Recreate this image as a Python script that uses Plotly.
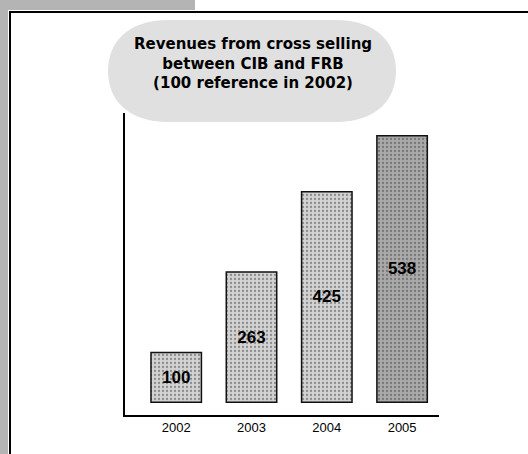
import plotly.graph_objects as go

years = ["2002", "2003", "2004", "2005"]
values = [100, 263, 425, 538]
bar_colors = ["#d2d2d2", "#d2d2d2", "#d2d2d2", "#a9a9a9"]
title_lines = ["Revenues from cross selling", "between CIB and FRB", "(100 reference in 2002)"]

W, H = 528, 454
L, R, T, B = 125, 439, 113, 415


def px(x):
    return (x - L) / (R - L)


def py(y):
    return (B - y) / (B - T)


fig = go.Figure()
fig.add_trace(go.Bar(
    x=years, y=values,
    width=0.67,
    marker=dict(color=bar_colors, line=dict(color="#111111", width=1.5),
                pattern=dict(shape=".", fgcolor="#7a7a7a", size=4, solidity=0.25)),
    text=[str(v) for v in values],
    textposition="inside",
    insidetextanchor="middle",
    textangle=0,
    textfont=dict(family="Liberation Sans Narrow, Arial Narrow, Liberation Sans", size=17, color="#000000", weight="bold"),
    hoverinfo="skip",
))

shapes = []
# outer scanned-page strips
shapes.append(dict(type="rect", xref="paper", yref="paper", x0=px(0), x1=px(8), y0=py(0), y1=py(454),
                   fillcolor="#b4b4b4", line=dict(width=0), layer="below"))
shapes.append(dict(type="rect", xref="paper", yref="paper", x0=px(0), x1=px(195), y0=py(0), y1=py(10),
                   fillcolor="#b4b4b4", line=dict(width=0), layer="below"))
# frame lines
shapes.append(dict(type="line", xref="paper", yref="paper", x0=px(9), x1=px(528), y0=py(12), y1=py(12),
                   line=dict(color="#000000", width=2)))
shapes.append(dict(type="line", xref="paper", yref="paper", x0=px(10), x1=px(10), y0=py(11), y1=py(454),
                   line=dict(color="#000000", width=2)))

# title bubble (stadium-like)
bx0, bx1, by0, by1 = 108, 396, 20, 122
r = 60
x0, x1 = px(bx0), px(bx1)
xa, xb = px(bx0 + r), px(bx1 - r)
y0, y1 = py(by0), py(by1)
ym = (y0 + y1) / 2
path = (f"M {xa},{y0} L {xb},{y0} "
        f"C {px(bx1 - 20)},{y0} {x1},{py(by0 + 22)} {x1},{ym} "
        f"C {x1},{py(by1 - 22)} {px(bx1 - 20)},{y1} {xb},{y1} "
        f"L {xa},{y1} "
        f"C {px(bx0 + 20)},{y1} {x0},{py(by1 - 22)} {x0},{ym} "
        f"C {x0},{py(by0 + 22)} {px(bx0 + 20)},{y0} {xa},{y0} Z")
shapes.append(dict(type="path", xref="paper", yref="paper", path=path,
                   fillcolor="#e0e0e0", line=dict(width=0), layer="above"))

annotations = [dict(
    xref="paper", yref="paper", x=px(253), y=py(64),
    text="<br>".join(title_lines), showarrow=False,
    font=dict(family="DejaVu Sans, Liberation Sans", size=15, color="#000000", weight="bold"),
    align="center", xanchor="center", yanchor="middle",
)]

fig.update_layout(
    width=W, height=H,
    margin=dict(l=L, r=W - R, t=T, b=H - B, pad=0),
    paper_bgcolor="#ffffff", plot_bgcolor="#ffffff",
    showlegend=False,
    shapes=shapes,
    annotations=annotations,
    xaxis=dict(range=[-0.68, 3.49], showline=True, linecolor="#000000", linewidth=1.5,
               showgrid=False, zeroline=False, ticks="",
               tickfont=dict(family="Liberation Sans, Arial", size=13, color="#000000")),
    yaxis=dict(range=[-26, 584], showline=True, linecolor="#000000", linewidth=1.5,
               showgrid=False, zeroline=False, ticks="", showticklabels=False),
)

fig.write_html("out.html", config={"displayModeBar": False},
               post_script="document.body.style.margin='0';")
